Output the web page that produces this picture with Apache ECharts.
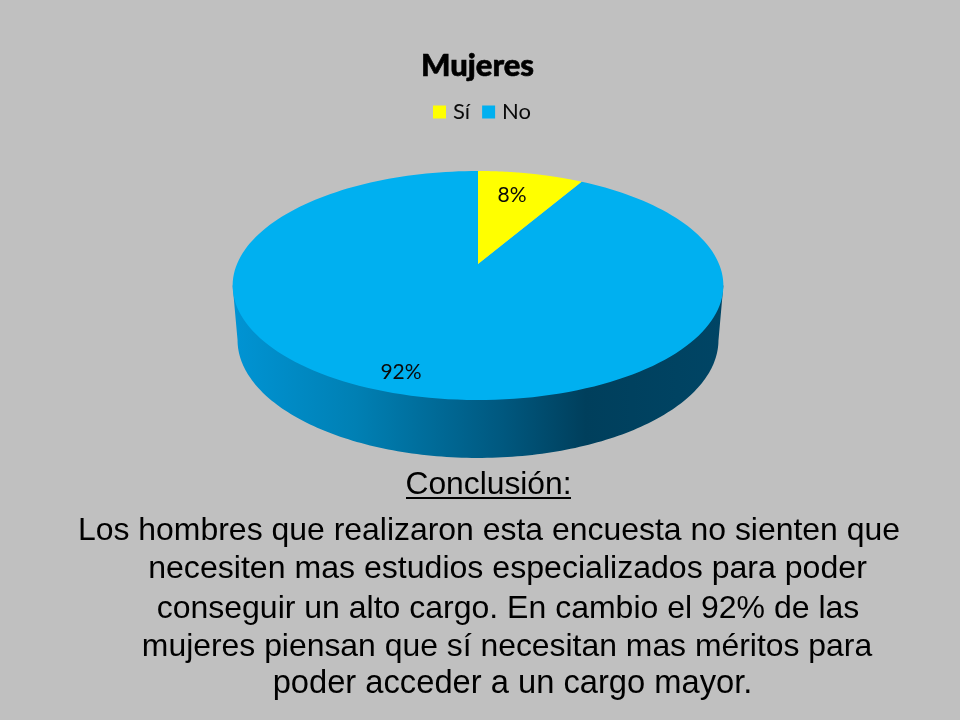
<!DOCTYPE html>
<html>
<head>
<meta charset="utf-8">
<style>html,body{margin:0;padding:0;background:#c0c0c0}#chart{width:960px;height:720px}</style>
<script src="https://cdn.jsdelivr.net/npm/echarts@6/dist/echarts.min.js"></script>
</head>
<body>
<div id="chart"></div>
<script>
const categories = ['Sí', 'No'];
const shareValues = [8.33, 91.67];
const sliceColors = ['#FFFF00', '#00B0F0'];
const labelAnchors = [[512, 195], [401, 372.5]];
const titleText = 'Mujeres';
const conclusionHead = 'Conclusión:';
const conclusionLines = [
  'Los hombres que realizaron esta encuesta no sienten que',
  'necesiten mas estudios especializados para poder',
  'conseguir un alto cargo. En cambio el 92% de las',
  'mujeres piensan que sí necesitan mas méritos para',
  'poder acceder a un cargo mayor.'
];
const lineCenters = [489, 507.5, 508, 507, 512.5];
const lineBaselines = [547, 585, 625, 663, 700];
const lineFontSizes = [31.95, 32.1, 32.0, 31.9, 32.7];

/* perspective of the disc */
const P = { cx: 478, cy: 264, A: 241, a: 110.47, c: -0.1878 };
const rim = { sx: 0.98, sy: 1.03, topMid: 285.5, lowMid: 340 };
function project(deg) {
  const t = deg * Math.PI / 180, u = Math.sin(t), v = -Math.cos(t), d = 1 + P.c * v;
  return [P.cx + P.A * u / d, P.cy + P.a * v / d];
}
function lower(deg) {
  const p = project(deg);
  return [P.cx + (p[0] - P.cx) * rim.sx, rim.lowMid + (p[1] - rim.topMid) * rim.sy];
}
const total = shareValues.reduce((s, v) => s + v, 0);
function startAngle(i) {
  let s = 0;
  for (let k = 0; k < i; k++) s += shareValues[k];
  return s / total * 360;
}
function sliceItem(i) {
  return function (params, api) {
    const val = api.value(0), a0 = startAngle(i), a1 = a0 + val / total * 360;
    const pts = [[P.cx, P.cy]];
    for (let a = a0; a <= a1 + 1e-6; a += (a1 - a0) / 180) pts.push(project(a));
    return {
      type: 'group', silent: true,
      children: [
        { type: 'polygon', shape: { points: pts }, style: { fill: sliceColors[i] }, z2: 1 },
        { type: 'text', z2: 5, style: { text: Math.round(val) + '%', x: labelAnchors[i][0], y: labelAnchors[i][1],
          fill: '#0a0a0a', align: 'center', verticalAlign: 'middle', fontFamily: 'Lato', fontSize: 21 } }
      ]
    };
  };
}
function wallItem() {
  const pts = [project(259.2)];
  for (let a = 259.2; a >= 100.8; a -= 1) pts.push(lower(a));
  pts.push(project(100.8));
  return { type: 'polygon', silent: true, shape: { points: pts }, style: { fill: {
    type: 'linear', x: 0, y: 0, x2: 1, y2: 0,
    colorStops: [
      { offset: 0, color: '#0094D4' }, { offset: 0.25, color: '#0080B4' },
      { offset: 0.55, color: '#00587F' }, { offset: 0.72, color: '#003F5C' },
      { offset: 1, color: '#004565' }
    ] } } };
}
const textEls = conclusionLines.map((t, i) => ({
  type: 'text', x: lineCenters[i], y: lineBaselines[i],
  style: { text: t, fill: '#000', align: 'center', verticalAlign: 'bottom', fontFamily: 'Liberation Sans', fontSize: lineFontSizes[i] }
}));
textEls.push({ type: 'text', x: 488.5, y: 501, style: { text: conclusionHead, fill: '#000', align: 'center', verticalAlign: 'bottom', fontFamily: 'Liberation Sans', fontSize: 31.8 } });
textEls.push({ type: 'line', shape: { x1: 406, y1: 498, x2: 571, y2: 498 }, style: { stroke: '#000', lineWidth: 2 } });

const chart = echarts.init(document.getElementById('chart'), null, { renderer: 'canvas' });
chart.setOption({
  animation: false,
  backgroundColor: '#C0C0C0',
  title: { text: titleText, left: 472.5, top: 45, textAlign: 'center',
    textStyle: { fontFamily: 'Lato', fontWeight: 900, fontSize: 31, color: '#000', textBorderColor: '#000', textBorderWidth: 0.6 } },
  legend: { data: categories, left: 428, top: 96, itemWidth: 13, itemHeight: 13, itemGap: 12, icon: 'rect',
    selectedMode: false, textStyle: { fontFamily: 'Lato', fontSize: 22, color: '#0a0a0a', padding: [0, 0, 0, 2] } },
  graphic: { elements: textEls },
  series: [
    { type: 'custom', name: 'lateral', coordinateSystem: 'none', data: [total], renderItem: wallItem, z: 1 },
    { type: 'custom', name: categories[1], coordinateSystem: 'none', data: [shareValues[1]], renderItem: sliceItem(1), itemStyle: { color: sliceColors[1] }, z: 2 },
    { type: 'custom', name: categories[0], coordinateSystem: 'none', data: [shareValues[0]], renderItem: sliceItem(0), itemStyle: { color: sliceColors[0] }, z: 3 }
  ]
});
</script>
</body>
</html>
